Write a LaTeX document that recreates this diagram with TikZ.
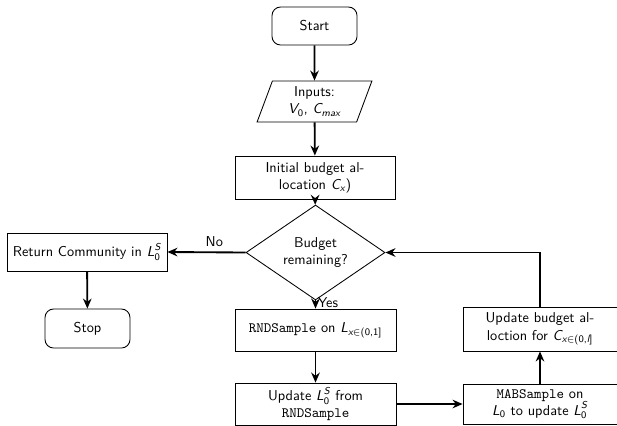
\documentclass[tikz,border=0pt]{standalone}
\usepackage{amsmath}
\usetikzlibrary{arrows.meta,shapes.geometric}
\newcommand\mv[1]{\textit{#1}}
\begin{document}
\begin{tikzpicture}[x=0.7pt,y=-0.7pt,
  font=\sffamily,
  box/.style={draw,line width=0.6pt,align=center,inner sep=0pt},
  term/.style={box,rounded corners=6pt,minimum width=85*0.7pt,minimum height=38*0.7pt},
  proc/.style={box,minimum width=160*0.7pt,minimum height=43*0.7pt},
  io/.style={box,trapezium,trapezium left angle=72,trapezium right angle=108,trapezium stretches=true,minimum width=115*0.7pt,minimum height=41*0.7pt},
  dec/.style={box,diamond,minimum width=139*0.7pt,minimum height=69*0.7pt},
  arr/.style={-{Stealth[length=7pt,width=6pt]},line width=1.3pt},
  lbl/.style={font=\sffamily}]
\useasboundingbox (0,0) rectangle (617,425);
\node[term] (start) at (314.5,26) {Start};
\node[io] (inputs) at (314.5,101.5) {Inputs:\\$\mv{V}_{\text{0}}$, $\mv{C}_{\mv{max}}$};
\node[proc] (init) at (315,177.5) {Initial budget al-\\location $\mv{C}_{\mv{x}}$)};
\node[dec] (dia) at (315.5,252.5) {Budget\\remaining?};
\node[proc,minimum height=38*0.7pt] (ret) at (87,252) {Return Community in $\mv{L}_{\text{0}}^{\mv{S}}$};
\node[term,minimum height=39*0.7pt] (stop) at (87.5,328.5) {Stop};
\node[proc,minimum width=161*0.7pt,minimum height=42*0.7pt] (rnd) at (315.5,330) {\texttt{RNDSample} on $\mv{L}_{\mv{x}\in\text{(0,1]}}$};
\node[proc,minimum width=161*0.7pt,minimum height=42*0.7pt] (upd) at (315.5,404) {Update $\mv{L}_{\text{0}}^{\mv{S}}$ from\\\texttt{RNDSample}};
\node[proc,minimum width=154*0.7pt,minimum height=40*0.7pt] (mab) at (540,404) {\texttt{MABSample} on\\$\mv{L}_{\text{0}}$ to update $\mv{L}_{\text{0}}^{\mv{S}}$};
\node[proc,minimum width=154*0.7pt,minimum height=44*0.7pt] (ubud) at (540,329) {Update budget al-\\loction for $\mv{C}_{\mv{x}\in\text{(0,}\mv{l}\text{]}}$};
\draw[arr] (start) -- (inputs);
\draw[arr] (inputs) -- (init);
\draw[arr] (init) -- (dia);
\draw[arr] (dia.west) -- node[lbl,above,pos=0.4] {No} (ret.east);
\draw[arr] (ret) -- (stop);
\draw[arr] (dia.south) -- node[lbl,right,inner sep=1pt,pos=0.3] {Yes} (rnd.north);
\draw[arr] (rnd) -- (upd);
\draw[arr] (upd.east) -- (mab.west);
\draw[arr] (mab) -- (ubud);
\draw[arr] (ubud.north) |- (dia.east);
\end{tikzpicture}
\end{document}
